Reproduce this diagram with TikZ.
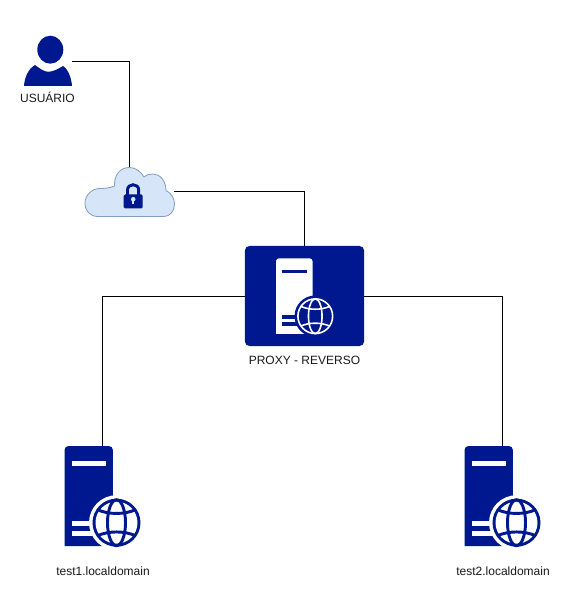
\documentclass[tikz,border=0pt]{standalone}
\usepackage{fontspec}
\setmainfont{Liberation Sans}
\definecolor{srvblue}{HTML}{00188F}
\definecolor{cloudfill}{HTML}{D6E6F8}
\definecolor{cloudline}{HTML}{7F9DBF}
% server with globe, origin at top left of the body
\newcommand{\srvglyph}[3]{%
  \fill[#1] (0,100) -- (0,4) arc (180:270:4) -- (44.4,0) arc (270:360:4) -- (48.4,100) -- cycle;
  \fill[#2] (7.5,15) rectangle (41.5,20);
  \fill[#2] (7.5,75) rectangle (30,80);
  \fill[#2] (7.5,85) rectangle (30,90);
  \begin{scope}[shift={(52,76.7)}]
    \fill[#2] (0,0) circle [x radius=27.5, y radius=27.5];
    \ifdim#3pt>1.5pt
      \fill[#1] (0,0) circle [x radius=24, y radius=24];
      \fill[#2] (0,0) circle [x radius=21, y radius=21];
    \else
      \draw[#1, line width=#3pt, fill=#2] (0,0) circle [x radius=23, y radius=23];
    \fi
    \draw[#1, line width=#3pt] (0,0) circle [x radius=9, y radius=23];
    \draw[#1, line width=#3pt] (-19,-13) .. controls (-8,-8) and (8,-8) .. (19,-13);
    \draw[#1, line width=#3pt] (-19,13) .. controls (-8,8) and (8,8) .. (19,13);
  \end{scope}
}
\tikzset{
  x=0.75pt, y=-0.75pt,
  srvbox/.style={inner sep=0pt, minimum width=57pt, minimum height=75pt},
  link/.style={black, line width=0.75pt}
  }

\begin{document}
\begin{tikzpicture}
  \tikzstyle{every node}=[font=\fontsize{9}{11}\selectfont, text=black!90]
  \useasboundingbox (0,0) rectangle (569,609);
  %
  \node[inner sep=0pt, minimum width=35.25pt, minimum height=37pt] (user) at (48.5,61.5) {};
  \node[inner sep=0pt, minimum width=67pt, minimum height=37pt] (cloud) at (129.5,191.5) {};
  \node[fill=srvblue, rounded corners=3.5pt, inner sep=0pt, minimum width=89.5pt, minimum height=75pt] (proxy) at (304.5,296) {};
  \node[srvbox] (test1) at (102.7,496) {};
  \node[srvbox] (test2) at (502.3,496) {};
  %
  \node (userlabel) at (47.5,97.5) {USUÁRIO};
  \node (proxylabel) at (304.5,360) {PROXY - REVERSO};
  \node (test1label) at (103,571.5) {test1.localdomain};
  \node (test2label) at (503,571.5) {test2.localdomain};
  %
  \draw[link] (user.east) -| (cloud.north);
  \draw[link] (cloud.east) -| (proxy.north);
  \draw[link] (proxy.west) -| (test1.north);
  \draw[link] (proxy.east) -| (test2.north);
  %
  \fill[srvblue] (50.3,49.7) circle [x radius=13, y radius=14];
  \fill[srvblue] (24,86) .. controls (24.5,78) and (28,69) .. (35,65)
    .. controls (39,68) and (44,71.8) .. (48,71.8)
    .. controls (53,71.8) and (58,69) .. (63,66)
    .. controls (68,69) and (71.5,78) .. (72,86) -- cycle;
  %
  \draw[cloudline, fill=cloudfill, line width=0.6pt] (98,216.5)
    .. controls (90,216.5) and (85,211) .. (85,203)
    .. controls (85,195) and (92,188.5) .. (100,188.5)
    .. controls (105,188.5) and (110,188) .. (114.5,186)
    .. controls (114,175) and (120,167.5) .. (129.5,167.5)
    .. controls (136,167.5) and (141,172) .. (144,177)
    .. controls (147,174.5) and (150,174) .. (153,174)
    .. controls (160,174) and (166,181) .. (166,190.5)
    .. controls (171,193) and (174.5,198) .. (174.5,204)
    .. controls (174.5,211) and (170,216.5) .. (164,216.5) -- cycle;
  %
  \draw[srvblue, line width=2.2pt] (127.5,196) -- (127.5,190)
    .. controls (127.5,183) and (138.7,183) .. (138.7,190) -- (138.7,196);
  \fill[srvblue, rounded corners=1] (123.7,194.5) rectangle (142.7,208.5);
  \fill[cloudfill] (133.2,199.2) circle [x radius=2.3, y radius=2.3];
  \fill[cloudfill] (132.2,199.5) rectangle (134.2,204.5);
  %
  \begin{scope}[shift={(276,258.3)}, scale=0.755]
    \srvglyph{white}{srvblue}{1.2}
  \end{scope}
  \begin{scope}[shift={(64.5,446)}]
    \srvglyph{srvblue}{white}{2.2}
  \end{scope}
  \begin{scope}[shift={(464.5,446)}]
    \srvglyph{srvblue}{white}{2.2}
  \end{scope}
 \end{tikzpicture}
\end{document}
